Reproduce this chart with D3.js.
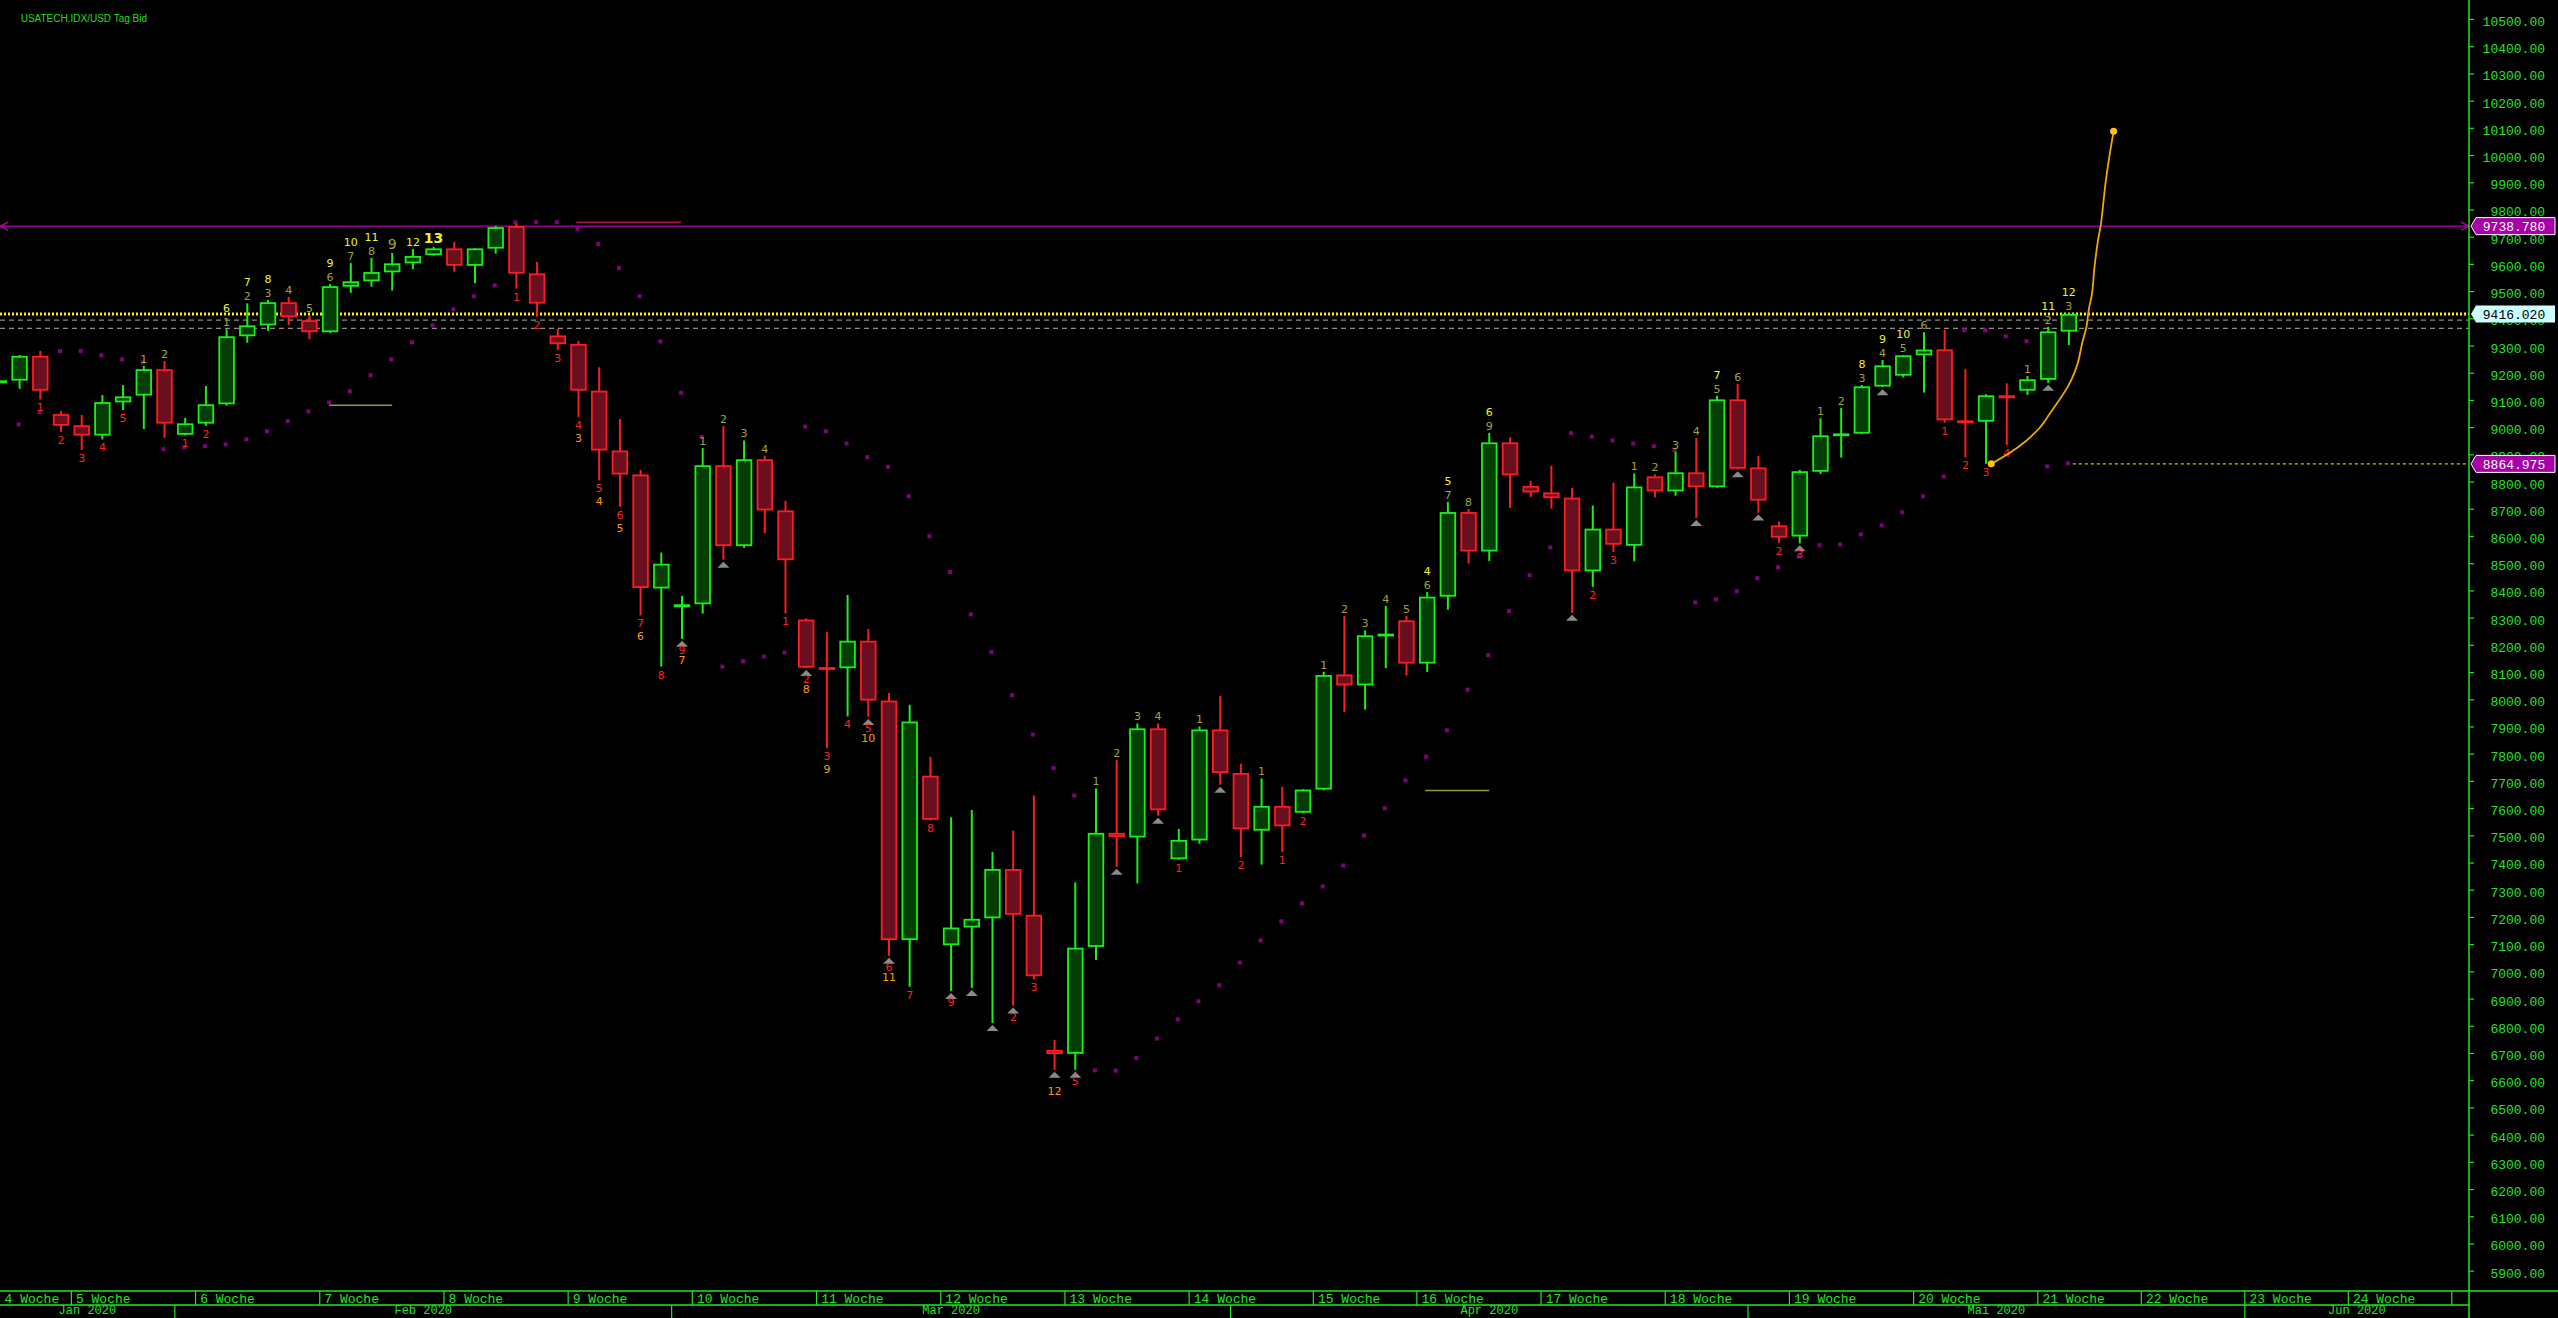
<!DOCTYPE html>
<html><head><meta charset="utf-8">
<script src="https://cdn.jsdelivr.net/npm/d3@7"></script>
<style>html,body{margin:0;padding:0;background:#000;overflow:hidden}</style>
</head><body><svg id="c" width="2558" height="1318"></svg>
<script>
// ---------------- DATA ----------------
const title = "USATECH.IDX/USD  Tag Bid";
const candleStart = -1; // index of first candle
const opens = [9169,9171,9262,9048,9007,8969,9091,9116,9213,8972,
9013,9084,9334,9374,9459,9393,9349,9516,9536,9569,
9602,9632,9657,9593,9656,9739,9565,9337,9306,9134,
8914,8826,8407,8338,8349,8860,8563,8882,8694,8293,
8118,8114,8215,7995,7115,7719,7096,7161,7195,7376,
7208,6711,6697,7090,7509,7492,7893,7412,7481,7889,
7729,7517,7608,7583,7668,8091,8051,8237,8290,8131,
8377,8688,8543,8944,8784,8760,8741,8470,8627,8564,
8819,8764,8834,8779,9102,8852,8639,8598,8836,8969,
8976,9149,9189,9264,9286,9025,9020,9117,9134,9174,
9351];
const highs = [9176,9265,9280,9059,9045,9118,9155,9225,9243,9034,
9151,9360,9455,9467,9479,9412,9526,9603,9622,9640,
9655,9663,9681,9657,9739,9749,9607,9361,9317,9220,
9030,8843,8539,8380,8923,9004,8951,8895,8729,8297,
8247,8383,8258,8023,7980,7788,7566,7593,7439,7517,
7646,6748,7327,7672,7777,7911,7911,7523,7900,8012,
7763,7709,7678,7669,8101,8306,8253,8343,8306,8394,
8725,8699,8979,8962,8802,8858,8776,8712,8796,8830,
8827,8910,8960,9115,9158,8894,8653,8843,9033,9070,
9155,9247,9265,9349,9357,9214,9121,9161,9188,9369,
9418];
const lows = [9164,9141,9102,8983,8916,8955,9063,8993,8961,8970,
9005,9079,9310,9354,9375,9323,9346,9494,9516,9502,
9581,9630,9571,9529,9638,9509,9406,9283,9037,8804,
8707,8308,8120,8222,8315,8513,8556,8610,8315,8115,
7821,7937,7935,7057,6943,7555,6928,6939,6810,6874,
6971,6638,6638,7042,7384,7323,7572,7410,7469,7686,
7420,7392,7439,7582,7665,7953,7962,8114,8087,8100,
8329,8499,8508,8703,8743,8701,8318,8413,8541,8507,
8742,8748,8666,8777,8845,8686,8575,8573,8828,8888,
8975,9147,9183,9127,9016,8889,8865,8934,9118,9163,
9302];
const closes = [9172,9262,9134,9005,8969,9092,9113,9213,9013,9014,
9084,9334,9374,9459,9404,9349,9518,9536,9570,9602,
9629,9657,9593,9657,9735,9564,9454,9305,9134,8914,
8826,8409,8498,8349,8860,8563,8882,8694,8511,8116,
8114,8215,7995,7115,7918,7557,7161,7193,7376,7208,
6982,6696,7087,7509,7494,7893,7592,7483,7889,7729,
7522,7608,7533,7668,8089,8051,8235,8241,8131,8377,
8688,8543,8944,8823,8760,8739,8470,8627,8568,8782,
8764,8834,8779,9102,8847,8730,8594,8838,8970,8977,
9150,9227,9264,9285,9025,9022,9117,9106,9176,9352,
9416];
// parabolic SAR, candles 0..99
const sarStart = 0;
const sar = [9010,9055,9279,9280,9264,9249,9238,8919,8926,8930,
8937,8955,8985,9022,9058,9091,9132,9191,9249,9312,
9374,9433,9481,9521,9753,9753,9753,9727,9673,9585,
9481,9315,9126,8964,8120,8140,8157,8172,9002,8985,
8940,8890,8854,8746,8599,8468,8312,8174,8015,7870,
7747,7646,6636,6635,6682,6753,6824,6890,6949,7032,
7114,7184,7250,7312,7389,7499,7599,7702,7789,7886,
8035,8162,8324,8456,8558,8978,8965,8951,8940,8930,
8916,8356,8367,8397,8445,8485,8526,8566,8569,8606,
8639,8687,8746,8819,9356,9356,9334,9316,8856,8867];
// count labels
const labelIdx = [1,2,3,4,5,6,7,8,9,
10,10,11,11,12,12,13,14,15,15,16,16,17,17,18,19,20,
24,25,26,27,27,28,28,29,29,30,30,31,32,32,
33,34,35,36,
37,38,38,39,39,40,41,41,42,42,43,44,45,
48,49,50,51,
52,53,54,55,56,57,59,60,61,62,
63,64,65,66,67,68,68,69,69,70,71,71,
76,77,78,79,80,81,82,82,83,85,86,
87,88,89,89,90,90,91,91,92,
93,94,95,96,97,98,98,99,99];
const labelText = ["1","2","3","4","5","1","2","1","2",
"1","6","2","7","3","8","4","5","6","9","7","10","8","11","9","12","13",
"1","2","3","4","3","5","4","6","5","7","6","8","9","7",
"1","2","3","4",
"1","2","8","3","9","4","5","10","6","11","7","8","9",
"2","3","12","5",
"1","2","3","4","1","1","2","1","1","2",
"1","2","3","4","5","6","4","7","5","8","9","6",
"2","3","1","2","3","4","5","7","6","2","3",
"1","2","3","8","4","9","5","10","6",
"1","2","3","4","1","2","11","3","12"];
// o = setup count above, y = countdown above, O/Y = completed, r = setup count below, g = countdown below
const labelKind = ["r","r","r","r","r","o","o","r","r",
"o","y","o","y","o","y","o","o","o","y","o","y","o","y","O","y","Y",
"r","r","r","r","g","r","g","r","g","r","g","r","r","g",
"o","o","o","o",
"r","r","g","r","g","r","r","g","r","g","r","r","r",
"r","r","g","r",
"o","o","o","o","r","o","r","o","r","r",
"o","o","o","o","o","o","y","o","y","o","o","y",
"r","r","o","o","o","o","o","y","o","r","r",
"o","o","o","y","o","y","o","y","o",
"r","r","r","r","o","o","y","o","y"];
const triIdx = [32,34,38,41,42,45,46,47,48,50,51,53,55,58,75,81,83,84,86,90,98];
// horizontal levels
const levelValues = [9738.78, 9416.02, 8864.975];
const levelText = ["9738.780", "9416.020", "8864.975"];
const bandValues = [9393, 9363];
const shortLines = [{v:9753, i0:26.9, i1:31.95}, {v:9080, i0:14.95, i1:18.0}, {v:7665, i0:67.9, i1:71.0}];
// projection curve
const projIdx = [95.25,96.54,97.57,98.09,98.95,99.29,99.47,99.64,99.85,99.96,100.12,100.24,100.41,100.54,100.77,100.93,101.16];
const projVal = [8865,8926,8996,9051,9149,9204,9247,9308,9369,9431,9492,9590,9688,9742,9896,9982,10087];
// axes
const priceTicks = d3.range(5900, 10501, 100);
const weekLabels = ["4 Woche","5 Woche","6 Woche","7 Woche","8 Woche","9 Woche","10 Woche","11 Woche","12 Woche","13 Woche","14 Woche","15 Woche","16 Woche","17 Woche","18 Woche","19 Woche","20 Woche","21 Woche","22 Woche","23 Woche","24 Woche"];
const weekStarts = [-0.5,3,9,15,21,27,33,39,45,51,57,63,68,74,80,86,92,98,103,108,113];
const weekEnd = 118;
const monthLabels = ["Jan 2020","Feb 2020","Mär 2020","Apr 2020","Mai 2020","Jun 2020"];
const monthStarts = [-0.5,8,32,59,84,108];

// ---------------- DRAW ----------------
const W = 2558, H = 1318, plotR = 2469, plotB = 1291, row2 = 1305;
const GREEN = "#22e622";
const UP = "#18f018", UPF = "#043e04", DN = "#ff1c1c", DNF = "#6a0f20";
const svg = d3.select("#c");
svg.append("rect").attr("width", W).attr("height", H).attr("fill", "#000");
const x = d3.scaleLinear().domain([-0.947, 118.33]).range([0, plotR]);
const y = d3.scaleLinear().domain([5825.2, 10569.8]).range([plotB, 0]);

svg.append("defs").append("clipPath").attr("id", "clip")
  .append("rect").attr("x", 0).attr("y", 0).attr("width", plotR).attr("height", plotB);
const g = svg.append("g").attr("clip-path", "url(#clip)");

// title
svg.append("text").attr("x", 20.7).attr("y", 21.5).text(title)
  .attr("fill", "#22dd22").attr("font-family", "Liberation Sans, Arial, sans-serif").attr("font-size", 10);

// gray dashed band lines
g.selectAll("line.band").data(bandValues).join("line")
  .attr("x1", 0).attr("x2", plotR).attr("y1", d => y(d)).attr("y2", d => y(d))
  .attr("stroke", "#8a8a8a").attr("stroke-width", 1.2).attr("stroke-dasharray", "5,4");
// yellow dotted level (close)
g.append("line").attr("x1", 0).attr("x2", plotR)
  .attr("y1", y(levelValues[1])).attr("y2", y(levelValues[1]))
  .attr("stroke", "#ffee00").attr("stroke-width", 3).attr("stroke-dasharray", "2,2");
// magenta level
g.append("line").attr("x1", 0).attr("x2", plotR)
  .attr("y1", y(levelValues[0])).attr("y2", y(levelValues[0]))
  .attr("stroke", "#b000b0").attr("stroke-width", 1.3);
const my = y(levelValues[0]);
g.append("path").attr("d", `M8,${my-4}L1,${my}L8,${my+4}`).attr("fill", "none").attr("stroke", "#b000b0").attr("stroke-width", 1.5);
g.append("path").attr("d", `M${plotR-8},${my-4}L${plotR},${my}L${plotR-8},${my+4}`).attr("fill", "none").attr("stroke", "#b000b0").attr("stroke-width", 1.5);
// yellow dashed low level
g.append("line").attr("x1", x(98.9)).attr("x2", plotR)
  .attr("y1", y(levelValues[2])).attr("y2", y(levelValues[2]))
  .attr("stroke", "#e6c000").attr("stroke-width", 1.2).attr("stroke-dasharray", "3,3");
// short lines
const shortColors = ["#b01048", "#8c9a3c", "#8c9a3c"];
g.selectAll("line.short").data(shortLines).join("line")
  .attr("x1", d => x(d.i0)).attr("x2", d => x(d.i1)).attr("y1", d => y(d.v)).attr("y2", d => y(d.v))
  .attr("stroke", (d, k) => shortColors[k]).attr("stroke-width", 1.5);

// SAR dots
g.selectAll("rect.sar").data(sar).join("rect")
  .attr("x", (d, k) => x(k + sarStart) - 3).attr("y", d => y(d) - 2)
  .attr("width", 4).attr("height", 4).attr("fill", "#800080");

// candles
const candles = opens.map((o, k) => ({i: k + candleStart, o, h: highs[k], l: lows[k], c: closes[k]}));
g.selectAll("line.wick").data(candles).join("line")
  .attr("x1", d => x(d.i)).attr("x2", d => x(d.i))
  .attr("y1", d => y(d.h)).attr("y2", d => y(d.l))
  .attr("stroke", d => d.c >= d.o ? UP : DN).attr("stroke-width", 2);
g.selectAll("rect.body").data(candles).join("rect")
  .attr("x", d => x(d.i) - 7.3).attr("width", 14.6)
  .attr("y", d => Math.min(y(d.o), y(d.c)) + 0.9)
  .attr("height", d => Math.max(Math.abs(y(d.o) - y(d.c)) - 1.8, 1))
  .attr("fill", d => d.c >= d.o ? UPF : DNF)
  .attr("stroke", d => d.c >= d.o ? UP : DN).attr("stroke-width", 1.8);

// triangles
const cand = i => candles[i - candleStart];
g.selectAll("path.tri").data(triIdx).join("path")
  .attr("d", i => { const cx = x(i), cy = y(cand(i).l) + 5; return `M${cx-6},${cy+3}L${cx},${cy-3}L${cx+6},${cy+3}Z`; })
  .attr("fill", "#8a8a8a");

// count labels
const labs = labelIdx.map((i, k) => ({i, t: labelText[k], kind: labelKind[k]}));
const hasOlive = new Set(labs.filter(d => d.kind === "o").map(d => d.i));
const hasTri = new Set(triIdx);
const labColor = {o: "#a3a33c", O: "#a3a33c", y: "#f2f224", Y: "#f2f224", r: "#ff2222", g: "#ff9a00"};
g.selectAll("text.cnt").data(labs).join("text")
  .attr("x", d => x(d.i))
  .attr("y", d => {
    const c = cand(d.i);
    if (d.kind === "o") return y(c.h) - 7;
    if (d.kind === "O" || d.kind === "Y") return y(c.h) - 9;
    if (d.kind === "y") return y(c.h) - (hasOlive.has(d.i) ? 21 : 7);
    if (d.kind === "r") return y(c.l) + (hasTri.has(d.i) ? 11 : 8);
    return y(c.l) + 21;
  })
  .attr("dy", "0.36em").attr("text-anchor", "middle")
  .attr("font-family", "DejaVu Sans, sans-serif")
  .attr("font-size", d => (d.kind === "O" || d.kind === "Y") ? 14 : 11)
  .attr("font-weight", d => (d.kind === "Y") ? "bold" : "normal")
  .attr("fill", d => labColor[d.kind]).text(d => d.t);

// projection curve
const proj = projIdx.map((i, k) => ({i, v: projVal[k]}));
g.append("path").datum(proj)
  .attr("d", d3.line().x(d => x(d.i)).y(d => y(d.v)).curve(d3.curveCatmullRom))
  .attr("fill", "none").attr("stroke", "#f0a800").attr("stroke-width", 1.8);
g.selectAll("circle.pe").data([proj[0], proj[proj.length - 1]]).join("circle")
  .attr("cx", d => x(d.i)).attr("cy", d => y(d.v)).attr("r", 3.5).attr("fill", "#ffc400");

// right price axis
const ax = svg.append("g").attr("transform", `translate(${plotR},0)`)
  .call(d3.axisRight(y).tickValues(priceTicks).tickSize(5).tickFormat(d3.format(".2f")));
ax.select(".domain").remove();
ax.selectAll(".tick line").attr("stroke", GREEN).attr("stroke-width", 1.2);
ax.selectAll(".tick text").attr("x", 76).attr("text-anchor", "end").attr("dy", "0.5em")
  .attr("fill", GREEN).attr("font-family", "Liberation Mono, DejaVu Sans Mono, monospace").attr("font-size", 13);
svg.append("line").attr("x1", plotR).attr("x2", plotR).attr("y1", 0).attr("y2", H)
  .attr("stroke", GREEN).attr("stroke-width", 1.5);

// level tags on the axis
const tagFill = ["#a800a8", "#ccffff", "#a800a8"];
const tagText = ["#ffffff", "#000000", "#ffffff"];
const tagStroke = ["#ffffff", "none", "#ffffff"];
const tags = svg.selectAll("g.tag").data(levelValues).join("g")
  .attr("transform", d => `translate(0,${y(d)})`);
tags.append("path").attr("d", `M${plotR + 2},0L${plotR + 7},-8.5L2555,-8.5L2555,8.5L${plotR + 7},8.5Z`)
  .attr("fill", (d, k) => tagFill[k]).attr("stroke", (d, k) => tagStroke[k]).attr("stroke-width", 1);
tags.append("text").attr("x", 2514).attr("y", 0).attr("dy", "0.36em").attr("text-anchor", "middle")
  .attr("font-family", "Liberation Mono, DejaVu Sans Mono, monospace").attr("font-size", 13)
  .attr("fill", (d, k) => tagText[k]).text((d, k) => levelText[k]);

// bottom time axis
svg.append("line").attr("x1", 0).attr("x2", W).attr("y1", plotB).attr("y2", plotB).attr("stroke", GREEN).attr("stroke-width", 1.5);
svg.append("line").attr("x1", 0).attr("x2", plotR).attr("y1", row2).attr("y2", row2).attr("stroke", GREEN).attr("stroke-width", 1.5);
const bx = k => Math.max(0, x(k - 0.5));
svg.selectAll("line.wk").data(weekStarts.slice(1).concat([weekEnd])).join("line")
  .attr("x1", bx).attr("x2", bx).attr("y1", plotB).attr("y2", row2).attr("stroke", GREEN).attr("stroke-width", 1.2);
svg.selectAll("text.wk").data(weekLabels).join("text")
  .attr("x", (d, k) => bx(weekStarts[k]) + 4.6).attr("y", 1303.3).text(d => d)
  .attr("fill", GREEN).attr("font-family", "Liberation Mono, DejaVu Sans Mono, monospace").attr("font-size", 13);
svg.selectAll("line.mo").data(monthStarts.slice(1)).join("line")
  .attr("x1", bx).attr("x2", bx).attr("y1", row2).attr("y2", H).attr("stroke", GREEN).attr("stroke-width", 1.2);
svg.selectAll("text.mo").data(monthLabels).join("text")
  .attr("x", (d, k) => (bx(monthStarts[k]) + (k + 1 < monthStarts.length ? bx(monthStarts[k + 1]) : plotR)) / 2)
  .attr("y", 1314.3).attr("text-anchor", "middle").text(d => d)
  .attr("fill", GREEN).attr("font-family", "Liberation Mono, DejaVu Sans Mono, monospace").attr("font-size", 12);
</script>
</body></html>
